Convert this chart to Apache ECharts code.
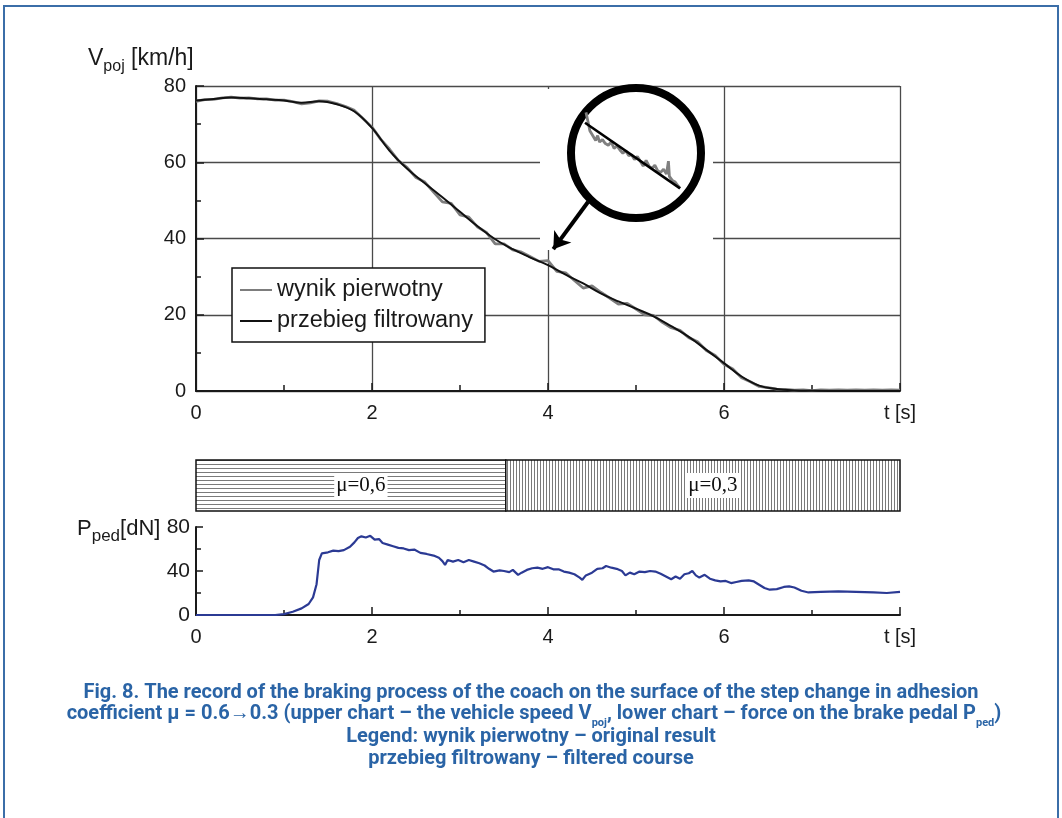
<!DOCTYPE html>
<html>
<head>
<meta charset="utf-8">
<script src="https://cdn.jsdelivr.net/npm/echarts@6/dist/echarts.min.js"></script>
<style>
  html, body { margin: 0; padding: 0; background: #fff; }
  #chart { width: 1062px; height: 818px; }
</style>
</head>
<body>
<div id="chart"></div>
<script>
// upper chart: vehicle speed V_poj [km/h] against t [s]
const vTime = [0, 0.1, 0.2, 0.3, 0.4, 0.5, 0.6, 0.7, 0.8, 0.9, 1.0, 1.1, 1.2, 1.3, 1.4, 1.5, 1.6, 1.7, 1.8, 1.9,
  2.0, 2.1, 2.2, 2.3, 2.4, 2.5, 2.6, 2.7, 2.8, 2.9, 3.0, 3.1, 3.2, 3.3, 3.4, 3.5, 3.6, 3.7, 3.8, 3.9,
  4.0, 4.1, 4.2, 4.3, 4.4, 4.5, 4.6, 4.7, 4.8, 4.9, 5.0, 5.1, 5.2, 5.3, 5.4, 5.5, 5.6, 5.7, 5.8, 5.9,
  6.0, 6.1, 6.2, 6.3, 6.4, 6.5, 6.6, 6.7, 6.8, 6.9, 7.0, 7.1, 7.2, 7.3, 7.4, 7.5, 7.6, 7.7, 7.8, 7.9, 8.0];
const vRaw = [76.0, 76.4, 76.5, 76.9, 77.1, 76.8, 76.9, 76.6, 76.6, 76.3, 76.3, 75.9, 75.3, 75.6, 76.1, 76.0, 75.4, 74.6, 73.6, 71.4,
  69.2, 66.0, 63.4, 60.4, 58.6, 56.0, 54.8, 52.2, 49.6, 49.2, 46.2, 45.6, 43.0, 41.6, 38.6, 38.6, 37.0, 36.4, 35.2, 34.0,
  34.2, 31.4, 31.0, 29.0, 27.0, 27.6, 25.9, 24.4, 22.8, 23.0, 21.5, 20.0, 19.8, 18.0, 16.6, 15.9, 14.0, 12.9, 10.6, 9.3,
  7.0, 5.8, 3.5, 2.4, 1.2, 0.9, 0.5, 0.4, 0.2, 0.3, 0.1, 0.3, 0.2, 0.3, 0.2, 0.3, 0.2, 0.3, 0.2, 0.3, 0.2];

const fitTime = [0, 0.2, 0.4, 0.6, 0.8, 1.0, 1.2, 1.4, 1.6, 1.8, 2.0, 2.2, 2.4, 2.6, 2.8, 3.0, 3.2, 3.4, 3.6, 3.8,
  4.0, 4.2, 4.4, 4.6, 4.8, 5.0, 5.2, 5.4, 5.6, 5.8, 6.0, 6.2, 6.4, 6.6, 6.8, 7.0, 7.4, 8.0];
const vFiltered = [76.2, 76.6, 77.0, 76.8, 76.5, 76.2, 75.6, 76.0, 75.2, 73.3, 69.0, 63.0, 58.3, 54.5, 50.8, 47.0, 43.2, 39.8, 37.2, 35.0,
  33.0, 30.5, 28.2, 25.6, 23.5, 21.6, 19.6, 17.0, 14.2, 10.8, 7.3, 3.8, 1.4, 0.5, 0.15, 0.05, 0, 0];

// magnified detail inside the circle (relative units 0..1)
const insetX = [0.01, 0.03, 0.05, 0.07, 0.09, 0.11, 0.13, 0.15, 0.18, 0.21, 0.24, 0.27, 0.30, 0.33, 0.36, 0.39, 0.42, 0.45,
  0.48, 0.51, 0.54, 0.57, 0.60, 0.63, 0.66, 0.69, 0.72, 0.75, 0.78, 0.81, 0.84, 0.86, 0.87, 0.90, 0.93, 0.96, 0.98];
const insetRaw = [0.97, 0.86, 0.74, 0.70, 0.66, 0.62, 0.68, 0.60, 0.63, 0.58, 0.56, 0.60, 0.52, 0.55, 0.50, 0.46, 0.49, 0.43,
  0.44, 0.38, 0.42, 0.36, 0.30, 0.37, 0.30, 0.27, 0.31, 0.24, 0.22, 0.26, 0.20, 0.36, 0.17, 0.12, 0.10, 0.05, 0.02];
const insetFitX = [0, 0.98];
const insetFitY = [0.84, 0.02];

// adhesion band
const muFrom = [0, 3.52];
const muTo = [3.52, 8];
const muText = ['μ=0,6', 'μ=0,3'];

// lower chart: brake pedal force P_ped [dN]
const pedTime = [0, 0.2, 0.4, 0.6, 0.8, 0.9, 1.0, 1.1, 1.2, 1.28, 1.33, 1.37, 1.4, 1.43, 1.5, 1.56, 1.62, 1.68, 1.75, 1.8,
  1.84, 1.88, 1.93, 1.98, 2.03, 2.08, 2.12, 2.18, 2.24, 2.3, 2.36, 2.42, 2.48, 2.55, 2.62, 2.7, 2.76, 2.8, 2.83, 2.86,
  2.92, 2.98, 3.04, 3.1, 3.16, 3.22, 3.28, 3.33, 3.38, 3.45, 3.5, 3.56, 3.6, 3.66, 3.7, 3.76, 3.82, 3.88, 3.94, 4.0,
  4.06, 4.12, 4.18, 4.24, 4.3, 4.36, 4.39, 4.43, 4.5, 4.56, 4.62, 4.66, 4.72, 4.78, 4.84, 4.88, 4.93, 4.98, 5.04, 5.1,
  5.16, 5.22, 5.28, 5.34, 5.4, 5.45, 5.5, 5.55, 5.6, 5.64, 5.68, 5.72, 5.78, 5.84, 5.9, 5.96, 6.02, 6.08, 6.14, 6.2,
  6.28, 6.34, 6.4, 6.46, 6.52, 6.6, 6.68, 6.74, 6.8, 6.88, 6.96, 7.1, 7.3, 7.5, 7.7, 7.85, 8.0];
const pedForce = [0, 0, 0, 0, 0, 0, 0.8, 3, 6, 10, 16, 28, 50, 56, 57, 58.5, 58, 59, 62, 66,
  70, 71.5, 70.5, 72, 68.5, 69, 65.5, 64, 62.5, 61, 60.5, 59, 59.5, 56.5, 55.5, 54, 52, 49, 45.5, 50,
  48.5, 50, 48, 50, 48.5, 47, 45, 42, 39.5, 40.5, 40, 39, 41, 36.5, 38.5, 41, 42.5, 43, 42, 43.5,
  41.5, 41.5, 39.5, 38.5, 37, 34, 32, 36, 38.5, 42, 42.5, 44.5, 43, 42, 40, 36, 38.5, 37, 39.5, 39,
  40, 39.5, 37.5, 35, 32.5, 35, 33, 37, 38, 40, 36, 34, 36.5, 33, 31.5, 30.5, 31, 29, 30, 31,
  31.5, 30.5, 27.5, 24.5, 23, 23.5, 25.5, 26, 25, 22, 20.5, 21, 21.5, 21, 20.5, 20, 21];

const font = '"Liberation Sans", Arial, sans-serif';
const ink = '#1a1a1a';
const grid = '#4a4a4a';
const captionBlue = '#2a64a6';
const capFont = 'bold 20px Roboto, sans-serif';

function pair(xs, ys) {
  return xs.map((x, i) => [x, ys[i]]);
}

// hatch fill for the adhesion band
function hatch(dir) {
  const c = document.createElement('canvas');
  c.width = dir === 'h' ? 8 : 3;
  c.height = dir === 'h' ? 4 : 8;
  const g = c.getContext('2d');
  g.fillStyle = '#fff';
  g.fillRect(0, 0, c.width, c.height);
  g.fillStyle = '#7a7a7a';
  if (dir === 'h') g.fillRect(0, 0, c.width, 1);
  else g.fillRect(0, 0, 1, c.height);
  return c;
}
const patterns = [hatch('h'), hatch('v')];

const tLabel = v => (v === 8 ? 't [s]' : String(v));

// text with a subscript: main tokens raised by bottom padding, all bottom aligned
function subRich(mainFont, subFont, color, lift) {
  return {
    m: { font: mainFont, fill: color, verticalAlign: 'bottom', padding: [0, 0, lift, 0] },
    s: { font: subFont, fill: color, verticalAlign: 'bottom' }
  };
}

const chart = echarts.init(document.getElementById('chart'), null, { renderer: 'canvas' });

const option = {
  animation: false,
  backgroundColor: '#fff',
  textStyle: { fontFamily: font },
  grid: [
    { left: 196, top: 86, width: 704, height: 305 },
    { left: 196, top: 460, width: 704, height: 51 },
    { left: 196, top: 527, width: 704, height: 88 },
    { left: 585, top: 110, width: 97, height: 80 }
  ],
  xAxis: [
    {
      gridIndex: 0, type: 'value', min: 0, max: 8, interval: 2,
      axisLine: { lineStyle: { color: ink, width: 2 } },
      axisTick: { inside: true, length: 8, lineStyle: { color: ink, width: 1.5 } },
      minorTick: { show: true, splitNumber: 2, length: 6, lineStyle: { color: ink, width: 1.5 } },
      splitLine: { show: true, lineStyle: { color: grid, width: 1.3 } },
      axisLabel: { margin: 12, fontSize: 20, color: ink, formatter: tLabel }
    },
    { gridIndex: 1, type: 'value', min: 0, max: 8, show: false },
    {
      gridIndex: 2, type: 'value', min: 0, max: 8, interval: 2,
      axisLine: { lineStyle: { color: ink, width: 2 } },
      axisTick: { inside: true, length: 8, lineStyle: { color: ink, width: 1.5 } },
      minorTick: { show: true, splitNumber: 2, length: 5, lineStyle: { color: ink, width: 1.5 } },
      splitLine: { show: false },
      axisLabel: { margin: 12, fontSize: 20, color: ink, formatter: tLabel }
    },
    { gridIndex: 3, type: 'value', min: 0, max: 1, show: false }
  ],
  yAxis: [
    {
      gridIndex: 0, type: 'value', min: 0, max: 80, interval: 20,
      axisLine: { show: true, lineStyle: { color: ink, width: 2 } },
      axisTick: { show: true, inside: true, length: 8, lineStyle: { color: ink, width: 1.5 } },
      minorTick: { show: true, splitNumber: 2, length: 5, lineStyle: { color: ink, width: 1.5 } },
      splitLine: { show: true, lineStyle: { color: grid, width: 1.3 } },
      axisLabel: { margin: 10, fontSize: 20, color: ink }
    },
    { gridIndex: 1, type: 'value', min: 0, max: 1, show: false },
    {
      gridIndex: 2, type: 'value', min: 0, max: 80, interval: 40,
      axisLine: { show: true, lineStyle: { color: ink, width: 2 } },
      axisTick: { show: true, inside: true, length: 7, lineStyle: { color: ink, width: 1.5 } },
      minorTick: { show: true, splitNumber: 2, length: 5, lineStyle: { color: ink, width: 1.5 } },
      splitLine: { show: false },
      axisLabel: { margin: 6, fontSize: 21, color: ink }
    },
    { gridIndex: 3, type: 'value', min: 0, max: 1, show: false }
  ],
  legend: {
    left: 232, top: 268, orient: 'vertical',
    data: ['wynik pierwotny', 'przebieg filtrowany'],
    icon: 'rect',
    backgroundColor: '#fff', borderColor: '#111', borderWidth: 1.5, borderRadius: 0,
    padding: [10, 12, 9, 8], itemWidth: 32, itemHeight: 2, itemGap: 7,
    textStyle: { fontSize: 23.5, color: ink, fontFamily: font }
  },
  series: [
    {
      name: 'wynik pierwotny', type: 'line', xAxisIndex: 0, yAxisIndex: 0,
      data: pair(vTime, vRaw), symbol: 'none', z: 2,
      lineStyle: { color: '#7d7d7d', width: 2.8 }, itemStyle: { color: '#7d7d7d' }
    },
    {
      name: 'przebieg filtrowany', type: 'line', xAxisIndex: 0, yAxisIndex: 0,
      data: pair(fitTime, vFiltered), symbol: 'none', smooth: 0.4, z: 3,
      lineStyle: { color: '#111', width: 2 }, itemStyle: { color: '#111' },
      markLine: {
        silent: true, symbol: ['none', 'arrow'], symbolSize: 16,
        label: { show: false },
        lineStyle: { color: '#000', width: 4, type: 'solid' },
        data: [[{ x: 588, y: 202 }, { coord: [4.06, 37.2] }]]
      }
    },
    {
      type: 'custom', xAxisIndex: 1, yAxisIndex: 1,
      data: muFrom.map((f, i) => [f, muTo[i]]),
      encode: { x: [0, 1] },
      renderItem: function (params, api) {
        const a = api.coord([api.value(0), 1]);
        const b = api.coord([api.value(1), 0]);
        const i = params.dataIndex;
        return {
          type: 'group',
          children: [
            {
              type: 'rect',
              shape: { x: a[0], y: a[1], width: b[0] - a[0], height: b[1] - a[1] },
              style: { fill: { image: patterns[i], repeat: 'repeat' }, stroke: '#111', lineWidth: 1.5 }
            },
            {
              type: 'text', x: (a[0] + b[0]) / 2 + 10, y: (a[1] + b[1]) / 2,
              style: {
                text: muText[i], font: '21px "Liberation Serif", "Times New Roman", serif', fill: '#111',
                align: 'center', verticalAlign: 'middle', textAlign: 'center', textVerticalAlign: 'middle',
                backgroundColor: '#fff', padding: [2, 2]
              }
            }
          ]
        };
      }
    },
    {
      name: 'P_ped', type: 'line', xAxisIndex: 2, yAxisIndex: 2,
      data: pair(pedTime, pedForce), symbol: 'none',
      lineStyle: { color: '#2b3a94', width: 2.2 }
    },
    {
      name: 'inset raw', type: 'line', xAxisIndex: 3, yAxisIndex: 3,
      data: pair(insetX, insetRaw), symbol: 'none', z: 6,
      lineStyle: { color: '#808080', width: 2.8 }
    },
    {
      name: 'inset fit', type: 'line', xAxisIndex: 3, yAxisIndex: 3,
      data: pair(insetFitX, insetFitY), symbol: 'none', z: 7,
      lineStyle: { color: '#000', width: 2.6 }
    }
  ],
  graphic: {
    elements: [
      // page frame
      { type: 'rect', shape: { x: 4, y: 6, width: 1054, height: 900 }, style: { fill: 'none', stroke: '#3b6ea8', lineWidth: 2 }, z: 0, silent: true },
      // white mask behind the magnifier
      { type: 'rect', shape: { x: 540, y: 89, width: 173, height: 161 }, style: { fill: '#fff' }, z: 1, silent: true },
      // magnifier ring
      { type: 'circle', shape: { cx: 636, cy: 153, r: 65 }, style: { fill: '#fff', stroke: '#000', lineWidth: 8 }, z: 4, silent: true },
      // axis titles
      {
        type: 'text', x: 88, y: 47, z: 10,
        style: { text: '{m|V}{s|poj}{m| [km/h]}', rich: subRich('23px ' + font, '16px ' + font, ink, 5) }
      },
      {
        type: 'text', x: 77, y: 518, z: 10,
        style: { text: '{m|P}{s|ped}{m|[dN]}', rich: subRich('22px ' + font, '17px ' + font, ink, 5) }
      },
      // caption
      {
        type: 'text', x: 531, y: 683, z: 10,
        style: {
          text: 'Fig. 8. The record of the braking process of the coach on the surface of the step change in adhesion',
          font: capFont, fill: captionBlue, align: 'center', textAlign: 'center'
        }
      },
      {
        type: 'text', x: 534, y: 704, z: 10,
        style: {
          text: '{m|coefficient μ = 0.6→0.3 (upper chart – the vehicle speed V}{s|poj}{m|, lower chart – force on the brake pedal P}{s|ped}{m|)}',
          align: 'center', textAlign: 'center',
          rich: subRich(capFont, 'bold 11px Roboto, sans-serif', captionBlue, 5)
        }
      },
      {
        type: 'text', x: 531, y: 727, z: 10,
        style: { text: 'Legend: wynik pierwotny – original result', font: capFont, fill: captionBlue, align: 'center', textAlign: 'center' }
      },
      {
        type: 'text', x: 531, y: 749, z: 10,
        style: { text: 'przebieg filtrowany – filtered course', font: capFont, fill: captionBlue, align: 'center', textAlign: 'center' }
      }
    ]
  }
};

chart.setOption(option);
</script>
</body>
</html>
